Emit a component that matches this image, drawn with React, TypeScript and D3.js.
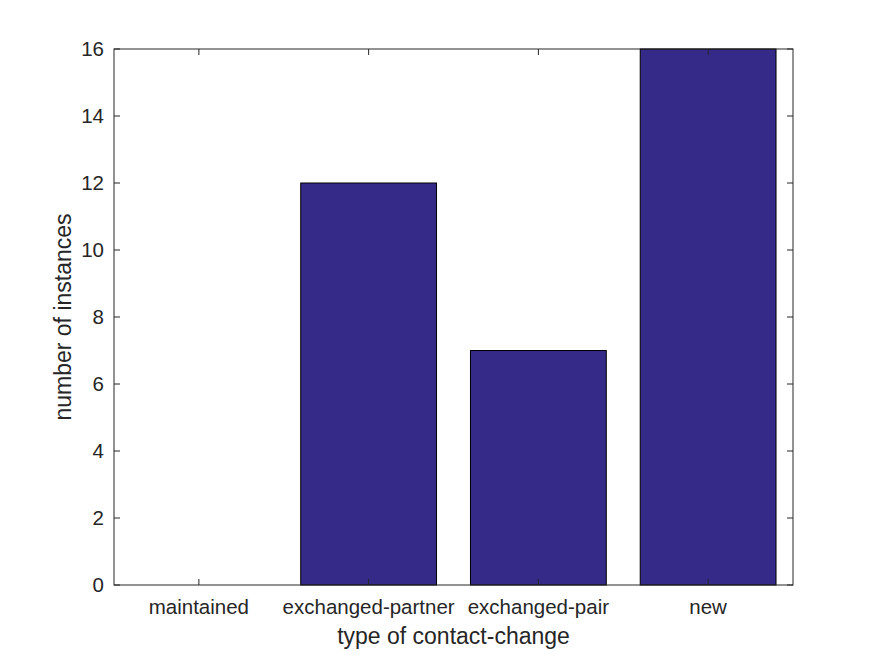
import React from "react";
import * as d3 from "d3";

const categories = ["maintained", "exchanged-partner", "exchanged-pair", "new"];
const values = [0, 12, 7, 16];
const yTicks = [0, 2, 4, 6, 8, 10, 12, 14, 16];

export default function App() {
  const W = 875, H = 656;
  const L = 114, R = 793, T = 49, B = 585;
  const x = d3.scaleLinear().domain([0.5, 4.5]).range([L, R]);
  const y = d3.scaleLinear().domain([0, 16]).range([B, T]);
  const bw = (x(1.8) - x(1));
  const font = "Liberation Sans, Arial, Helvetica, sans-serif";
  const fill = "#352a87";
  return (
    <svg width={W} height={H} style={{ position: "absolute", left: 0, top: 0, background: "#fff" }}>
      <rect x={0} y={0} width={W} height={H} fill="#fff" />
      {values.map((v, i) =>
        v > 0 ? (
          <rect key={i} x={x(i + 1) - bw / 2} y={y(v)} width={bw} height={y(0) - y(v)}
            fill={fill} stroke="#000" strokeWidth={1} />
        ) : null
      )}
      <rect x={L} y={T} width={R - L} height={B - T} fill="none" stroke="#262626" strokeWidth={1} />
      {yTicks.map((t) => (
        <g key={t}>
          <line x1={L} x2={L + 6} y1={y(t)} y2={y(t)} stroke="#262626" />
          <line x1={R} x2={R - 6} y1={y(t)} y2={y(t)} stroke="#262626" />
          <text x={L - 10} y={y(t)} dy="0.36em" textAnchor="end" fontFamily={font} fontSize={20.5} fill="#262626">{t}</text>
        </g>
      ))}
      {categories.map((c, i) => (
        <g key={c}>
          <line x1={x(i + 1)} x2={x(i + 1)} y1={B} y2={B - 6} stroke="#262626" />
          <line x1={x(i + 1)} x2={x(i + 1)} y1={T} y2={T + 6} stroke="#262626" />
          <text x={x(i + 1)} y={B + 29} textAnchor="middle" fontFamily={font} fontSize={20.5} fill="#262626">{c}</text>
        </g>
      ))}
      <text x={(L + R) / 2} y={B + 59} textAnchor="middle" fontFamily={font} fontSize={23} fill="#262626">type of contact-change</text>
      <text transform={`translate(71,${(T + B) / 2}) rotate(-90)`} textAnchor="middle" fontFamily={font} fontSize={23} fill="#262626">number of instances</text>
    </svg>
  );
}
